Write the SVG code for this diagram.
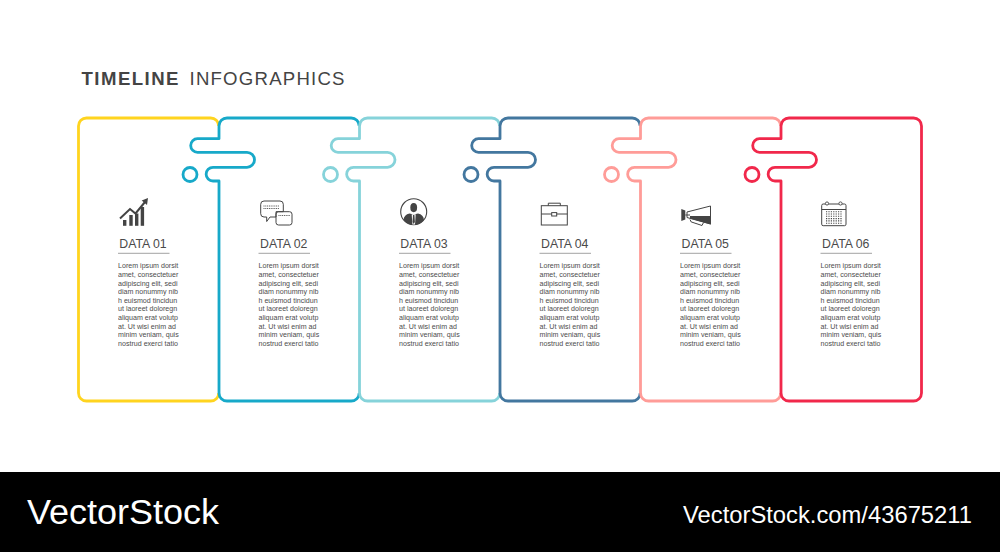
<svg xmlns="http://www.w3.org/2000/svg" width="1000" height="552" viewBox="0 0 1000 552">
<style>
text{font-family:"Liberation Sans",Arial,sans-serif;fill:#444}
.c{fill:none;stroke-width:2.8;stroke-linejoin:round}
.d{font-size:12.3px;fill:#4a4a4a}
.b{font-size:7.1px;fill:#4a4a4a;opacity:.98}
.r{stroke:#8a8a8a;stroke-width:.8}
.i{fill:none;stroke:#444;stroke-width:1}
.f{fill:#444;stroke:none}
.w{fill:#fff;stroke:none}
.k1{stroke:#FFD41F}.k2{stroke:#17A9C9}.k3{stroke:#86D3DA}.k4{stroke:#43779F}.k5{stroke:#FF9C98}.k6{stroke:#F1284B}
</style>
<rect width="1000" height="552" fill="#fff"/>
<g id="title">
<text x="81.5" y="84.8" font-size="18.6" font-weight="700" textLength="97" lengthAdjust="spacing">TIMELINE</text>
<text x="189.5" y="84.8" font-size="18.6" textLength="155" lengthAdjust="spacing">INFOGRAPHICS</text>
</g>
<g id="connectors">
<path class="c k1" d="M218.7 126A8 8 0 0 0 210.7 118H86.5A8 8 0 0 0 78.5 126V393A8 8 0 0 0 86.5 401H210.7A8 8 0 0 0 218.7 393"/>
<path class="c k2" d="M359.2 126A8 8 0 0 0 351.2 118H227A8 8 0 0 0 219 126V138.7H197.5A6.8 6.8 0 0 0 197.5 152.3H247A7.5 7.5 0 0 1 247 167.3H213A6.85 6.85 0 0 0 213 181H219V393A8 8 0 0 0 227 401H351.2A8 8 0 0 0 359.2 393"/>
<circle class="c k2" cx="190" cy="174.5" r="7"/>
<path class="c k3" d="M499.7 126A8 8 0 0 0 491.7 118H367.5A8 8 0 0 0 359.5 126V138.7H338A6.8 6.8 0 0 0 338 152.3H387.5A7.5 7.5 0 0 1 387.5 167.3H353.5A6.85 6.85 0 0 0 353.5 181H359.5V393A8 8 0 0 0 367.5 401H491.7A8 8 0 0 0 499.7 393"/>
<circle class="c k3" cx="330.5" cy="174.5" r="7"/>
<path class="c k4" d="M640.2 126A8 8 0 0 0 632.2 118H508A8 8 0 0 0 500 126V138.7H478.5A6.8 6.8 0 0 0 478.5 152.3H528A7.5 7.5 0 0 1 528 167.3H494A6.85 6.85 0 0 0 494 181H500V393A8 8 0 0 0 508 401H632.2A8 8 0 0 0 640.2 393"/>
<circle class="c k4" cx="471" cy="174.5" r="7"/>
<path class="c k5" d="M780.7 126A8 8 0 0 0 772.7 118H648.5A8 8 0 0 0 640.5 126V138.7H619A6.8 6.8 0 0 0 619 152.3H668.5A7.5 7.5 0 0 1 668.5 167.3H634.5A6.85 6.85 0 0 0 634.5 181H640.5V393A8 8 0 0 0 648.5 401H772.7A8 8 0 0 0 780.7 393"/>
<circle class="c k5" cx="611.5" cy="174.5" r="7"/>
<path class="c k6" d="M781 126A8 8 0 0 1 789 118H913.5A8 8 0 0 1 921.5 126V393A8 8 0 0 1 913.5 401H789A8 8 0 0 1 781 393V181H775A6.85 6.85 0 0 1 775 167.3H809A7.5 7.5 0 0 0 809 152.3H759.5A6.8 6.8 0 0 1 759.5 138.7H781V126"/>
<circle class="c k6" cx="752" cy="174.5" r="7"/>
</g>
<g id="node-01">
<g>
<rect class="f" x="123" y="220" width="3.4" height="5.8"/><rect class="f" x="129.3" y="215" width="3.4" height="10.8"/><rect class="f" x="135" y="213.5" width="3.4" height="12.3"/><rect class="f" x="140.7" y="207" width="3.4" height="18.8"/>
<path d="M120 218.5L130 209L135.5 213.5L145 202" fill="none" stroke="#444" stroke-width="2"/><path class="f" d="M148 198L147 205L141.7 200.5Z"/>
</g>
<text class="d" x="119.3" y="248.3">DATA 01</text>
<line class="r" x1="118" x2="169.5" y1="253.3" y2="253.3"/>
<text class="b"><tspan x="118" y="268.3">Lorem ipsum dorsit</tspan><tspan x="118" y="276.9">amet, consectetuer</tspan><tspan x="118" y="285.5">adipiscing elit, sedi</tspan><tspan x="118" y="294.1">diam nonummy nib</tspan><tspan x="118" y="302.7">h euismod tincidun</tspan><tspan x="118" y="311.3">ut laoreet doloregn</tspan><tspan x="118" y="319.9">aliquam erat volutp</tspan><tspan x="118" y="328.5">at. Ut wisi enim ad</tspan><tspan x="118" y="337.1">minim veniam, quis</tspan><tspan x="118" y="345.7">nostrud exerci tatio</tspan></text>
</g>
<g id="node-02">
<g>
<path class="i" d="M264 201H280A3.3 3.3 0 0 1 283.3 204.3V211.7H276V217H270L266.7 221.5V217H264A3.3 3.3 0 0 1 260.7 213.7V204.3A3.3 3.3 0 0 1 264 201Z"/>
<rect class="i" x="276" y="211.7" width="16" height="13.3" rx="2.5"/>
<path d="M263.5 206H279M263.5 208.5H279" stroke="#555" stroke-width="1" stroke-dasharray="1 .8" fill="none"/>
<path d="M278.5 215.5H290" stroke="#555" stroke-width="1" stroke-dasharray="1 .8" fill="none"/>
</g>
<text class="d" x="260" y="248.3">DATA 02</text>
<line class="r" x1="258.5" x2="310" y1="253.3" y2="253.3"/>
<text class="b"><tspan x="258.5" y="268.3">Lorem ipsum dorsit</tspan><tspan x="258.5" y="276.9">amet, consectetuer</tspan><tspan x="258.5" y="285.5">adipiscing elit, sedi</tspan><tspan x="258.5" y="294.1">diam nonummy nib</tspan><tspan x="258.5" y="302.7">h euismod tincidun</tspan><tspan x="258.5" y="311.3">ut laoreet doloregn</tspan><tspan x="258.5" y="319.9">aliquam erat volutp</tspan><tspan x="258.5" y="328.5">at. Ut wisi enim ad</tspan><tspan x="258.5" y="337.1">minim veniam, quis</tspan><tspan x="258.5" y="345.7">nostrud exerci tatio</tspan></text>
</g>
<g id="node-03">
<g>
<circle cx="413.7" cy="211.7" r="13" fill="#fff" stroke="#444" stroke-width="1.1"/>
<ellipse class="f" cx="413.7" cy="207.6" rx="3.4" ry="4.6"/>
<path class="f" d="M403.5 220Q404 214.5 409.5 213.5L413.7 214.5L418 213.5Q423.5 214.5 424 220A13 13 0 0 1 403.5 220Z"/>
<path class="w" d="M411.7 214.2H415.7L415 224.4H412.4Z"/>
<path class="f" d="M413 215H414.4L414.9 222L413.7 224L412.5 222Z"/>
</g>
<text class="d" x="400.3" y="248.3">DATA 03</text>
<line class="r" x1="399" x2="450.5" y1="253.3" y2="253.3"/>
<text class="b"><tspan x="399" y="268.3">Lorem ipsum dorsit</tspan><tspan x="399" y="276.9">amet, consectetuer</tspan><tspan x="399" y="285.5">adipiscing elit, sedi</tspan><tspan x="399" y="294.1">diam nonummy nib</tspan><tspan x="399" y="302.7">h euismod tincidun</tspan><tspan x="399" y="311.3">ut laoreet doloregn</tspan><tspan x="399" y="319.9">aliquam erat volutp</tspan><tspan x="399" y="328.5">at. Ut wisi enim ad</tspan><tspan x="399" y="337.1">minim veniam, quis</tspan><tspan x="399" y="345.7">nostrud exerci tatio</tspan></text>
</g>
<g id="node-04">
<g>
<rect class="i" x="541.3" y="205.7" width="26" height="19.3"/>
<path class="i" d="M548.3 205.7V203.2H560.3V205.7M541.3 214H551.7M556.7 214H567.3"/>
<rect class="i" x="551.7" y="212.6" width="5" height="3.4"/>
</g>
<text class="d" x="541" y="248.3">DATA 04</text>
<line class="r" x1="539.5" x2="591" y1="253.3" y2="253.3"/>
<text class="b"><tspan x="539.5" y="268.3">Lorem ipsum dorsit</tspan><tspan x="539.5" y="276.9">amet, consectetuer</tspan><tspan x="539.5" y="285.5">adipiscing elit, sedi</tspan><tspan x="539.5" y="294.1">diam nonummy nib</tspan><tspan x="539.5" y="302.7">h euismod tincidun</tspan><tspan x="539.5" y="311.3">ut laoreet doloregn</tspan><tspan x="539.5" y="319.9">aliquam erat volutp</tspan><tspan x="539.5" y="328.5">at. Ut wisi enim ad</tspan><tspan x="539.5" y="337.1">minim veniam, quis</tspan><tspan x="539.5" y="345.7">nostrud exerci tatio</tspan></text>
</g>
<g id="node-05">
<g>
<path class="f" d="M681.3 209L685.3 210.5V219.5L681.3 221Z"/>
<path class="i" d="M687 212L710.5 206V224L687 217.5Z"/>
<path class="f" d="M690 216H711V224.5L690 218.5Z"/>
<path class="i" d="M690 219.5Q691 223 693 222.5L702 225.5L703.5 222.5"/>
<path d="M685.3 215H690" stroke="#444" fill="none"/>
</g>
<text class="d" x="681.5" y="248.3">DATA 05</text>
<line class="r" x1="680" x2="731.5" y1="253.3" y2="253.3"/>
<text class="b"><tspan x="680" y="268.3">Lorem ipsum dorsit</tspan><tspan x="680" y="276.9">amet, consectetuer</tspan><tspan x="680" y="285.5">adipiscing elit, sedi</tspan><tspan x="680" y="294.1">diam nonummy nib</tspan><tspan x="680" y="302.7">h euismod tincidun</tspan><tspan x="680" y="311.3">ut laoreet doloregn</tspan><tspan x="680" y="319.9">aliquam erat volutp</tspan><tspan x="680" y="328.5">at. Ut wisi enim ad</tspan><tspan x="680" y="337.1">minim veniam, quis</tspan><tspan x="680" y="345.7">nostrud exerci tatio</tspan></text>
</g>
<g id="node-06">
<g>
<rect class="i" x="821.7" y="204" width="24.3" height="21.7" rx="1.5"/>
<path class="i" d="M821.7 209.5H846"/>
<circle cx="827" cy="203.5" r="1.6" fill="#fff" stroke="#444" stroke-width=".9"/><circle cx="840.5" cy="203.5" r="1.6" fill="#fff" stroke="#444" stroke-width=".9"/>
<path d="M826 211.7H842M826 214H842M826 216.3H842M826 218.6H842M826 220.9H842M826 223.2H842" stroke="#444" stroke-width="1.1" stroke-dasharray="1.2 1.2" fill="none"/>
</g>
<text class="d" x="822" y="248.3">DATA 06</text>
<line class="r" x1="820.5" x2="872" y1="253.3" y2="253.3"/>
<text class="b"><tspan x="820.5" y="268.3">Lorem ipsum dorsit</tspan><tspan x="820.5" y="276.9">amet, consectetuer</tspan><tspan x="820.5" y="285.5">adipiscing elit, sedi</tspan><tspan x="820.5" y="294.1">diam nonummy nib</tspan><tspan x="820.5" y="302.7">h euismod tincidun</tspan><tspan x="820.5" y="311.3">ut laoreet doloregn</tspan><tspan x="820.5" y="319.9">aliquam erat volutp</tspan><tspan x="820.5" y="328.5">at. Ut wisi enim ad</tspan><tspan x="820.5" y="337.1">minim veniam, quis</tspan><tspan x="820.5" y="345.7">nostrud exerci tatio</tspan></text>
</g>
<g id="footer">
<rect x="0" y="472" width="1000" height="80" fill="#000"/>
<text x="27" y="523.5" font-size="35" style="fill:#fff" textLength="192" lengthAdjust="spacingAndGlyphs">VectorStock</text>
<text x="683" y="523" font-size="24" style="fill:#fff" textLength="289" lengthAdjust="spacingAndGlyphs">VectorStock.com/43675211</text>
</g>
</svg>
